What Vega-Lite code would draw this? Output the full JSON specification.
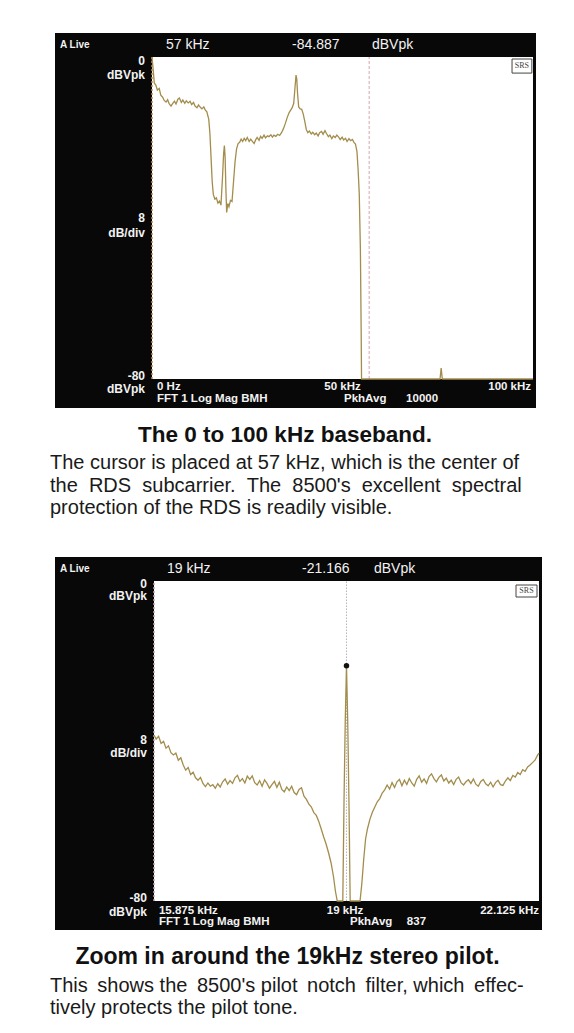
{
  "$schema": "https://vega.github.io/schema/vega-lite/v6.json",
  "background": "white",
  "padding": {"left": 50, "top": 33, "right": 0, "bottom": 0},
  "spacing": 6,
  "config": {"view": {"stroke": null}, "font": "Liberation Sans", "text": {"font": "Liberation Sans"}, "title": {"font": "Liberation Sans"}},
  "datasets": {
    "baseband": [
      {"freq_khz": 0, "level_dbvpk": 0}, {"freq_khz": 0.3, "level_dbvpk": -3}, {"freq_khz": 0.6, "level_dbvpk": -6.5}, {"freq_khz": 1.0, "level_dbvpk": -7}, {"freq_khz": 1.4, "level_dbvpk": -8.2}, {"freq_khz": 1.9, "level_dbvpk": -7.8}, {"freq_khz": 2.3, "level_dbvpk": -9.5}, {"freq_khz": 2.8, "level_dbvpk": -10}, {"freq_khz": 3.2, "level_dbvpk": -10.8}, {"freq_khz": 3.7, "level_dbvpk": -11.2}, {"freq_khz": 4.1, "level_dbvpk": -10.6}, {"freq_khz": 4.5, "level_dbvpk": -11.6}, {"freq_khz": 5.0, "level_dbvpk": -12.2}, {"freq_khz": 5.4, "level_dbvpk": -11.6}, {"freq_khz": 5.9, "level_dbvpk": -11.0}, {"freq_khz": 6.3, "level_dbvpk": -11.7}, {"freq_khz": 6.8, "level_dbvpk": -10.5}, {"freq_khz": 7.2, "level_dbvpk": -10.2}, {"freq_khz": 7.7, "level_dbvpk": -11.3}, {"freq_khz": 8.1, "level_dbvpk": -10.7}, {"freq_khz": 8.6, "level_dbvpk": -11.5}, {"freq_khz": 9.0, "level_dbvpk": -10.9}, {"freq_khz": 9.5, "level_dbvpk": -11.4}, {"freq_khz": 10.0, "level_dbvpk": -11.0}, {"freq_khz": 10.4, "level_dbvpk": -11.8}, {"freq_khz": 10.9, "level_dbvpk": -11.3}, {"freq_khz": 11.3, "level_dbvpk": -12.2}, {"freq_khz": 11.8, "level_dbvpk": -12.6}, {"freq_khz": 12.2, "level_dbvpk": -11.9}, {"freq_khz": 12.7, "level_dbvpk": -12.5}, {"freq_khz": 13.1, "level_dbvpk": -12.9}, {"freq_khz": 13.6, "level_dbvpk": -12.4}, {"freq_khz": 14.0, "level_dbvpk": -13.2}, {"freq_khz": 14.4, "level_dbvpk": -13.6}, {"freq_khz": 14.9, "level_dbvpk": -15.5}, {"freq_khz": 15.2, "level_dbvpk": -19}, {"freq_khz": 15.5, "level_dbvpk": -25}, {"freq_khz": 15.8, "level_dbvpk": -31}, {"freq_khz": 16.1, "level_dbvpk": -34.2}, {"freq_khz": 16.5, "level_dbvpk": -35.3}, {"freq_khz": 16.9, "level_dbvpk": -35.0}, {"freq_khz": 17.3, "level_dbvpk": -36.3}, {"freq_khz": 17.7, "level_dbvpk": -35.8}, {"freq_khz": 18.1, "level_dbvpk": -36.8}, {"freq_khz": 18.5, "level_dbvpk": -30}, {"freq_khz": 18.8, "level_dbvpk": -24}, {"freq_khz": 19.0, "level_dbvpk": -22.0}, {"freq_khz": 19.2, "level_dbvpk": -25}, {"freq_khz": 19.4, "level_dbvpk": -33}, {"freq_khz": 19.6, "level_dbvpk": -38.6}, {"freq_khz": 19.9, "level_dbvpk": -36.4}, {"freq_khz": 20.2, "level_dbvpk": -37.2}, {"freq_khz": 20.6, "level_dbvpk": -35.6}, {"freq_khz": 21.0, "level_dbvpk": -35.9}, {"freq_khz": 21.4, "level_dbvpk": -31}, {"freq_khz": 21.8, "level_dbvpk": -26}, {"freq_khz": 22.2, "level_dbvpk": -22.8}, {"freq_khz": 22.6, "level_dbvpk": -21.5}, {"freq_khz": 23.0, "level_dbvpk": -21.2}, {"freq_khz": 23.4, "level_dbvpk": -20.4}, {"freq_khz": 23.8, "level_dbvpk": -21.0}, {"freq_khz": 24.2, "level_dbvpk": -20.2}, {"freq_khz": 24.6, "level_dbvpk": -20.8}, {"freq_khz": 25.0, "level_dbvpk": -20.0}, {"freq_khz": 25.5, "level_dbvpk": -21.0}, {"freq_khz": 25.9, "level_dbvpk": -20.4}, {"freq_khz": 26.3, "level_dbvpk": -20.9}, {"freq_khz": 26.8, "level_dbvpk": -21.5}, {"freq_khz": 27.2, "level_dbvpk": -20.6}, {"freq_khz": 27.6, "level_dbvpk": -20.0}, {"freq_khz": 28.1, "level_dbvpk": -20.7}, {"freq_khz": 28.5, "level_dbvpk": -19.7}, {"freq_khz": 28.9, "level_dbvpk": -20.2}, {"freq_khz": 29.4, "level_dbvpk": -19.4}, {"freq_khz": 29.8, "level_dbvpk": -20.1}, {"freq_khz": 30.3, "level_dbvpk": -19.6}, {"freq_khz": 30.7, "level_dbvpk": -19.8}, {"freq_khz": 31.2, "level_dbvpk": -19.3}, {"freq_khz": 31.6, "level_dbvpk": -19.9}, {"freq_khz": 32.0, "level_dbvpk": -19.4}, {"freq_khz": 32.5, "level_dbvpk": -19.7}, {"freq_khz": 33.0, "level_dbvpk": -19.2}, {"freq_khz": 33.5, "level_dbvpk": -19.5}, {"freq_khz": 34.0, "level_dbvpk": -18.8}, {"freq_khz": 34.5, "level_dbvpk": -17.8}, {"freq_khz": 35.0, "level_dbvpk": -16.5}, {"freq_khz": 35.5, "level_dbvpk": -15.0}, {"freq_khz": 36.0, "level_dbvpk": -13.8}, {"freq_khz": 36.4, "level_dbvpk": -13.2}, {"freq_khz": 36.8, "level_dbvpk": -12.6}, {"freq_khz": 37.2, "level_dbvpk": -11.5}, {"freq_khz": 37.5, "level_dbvpk": -8}, {"freq_khz": 37.8, "level_dbvpk": -4.5}, {"freq_khz": 38.0, "level_dbvpk": -5.5}, {"freq_khz": 38.2, "level_dbvpk": -9}, {"freq_khz": 38.5, "level_dbvpk": -12.4}, {"freq_khz": 38.9, "level_dbvpk": -12.9}, {"freq_khz": 39.3, "level_dbvpk": -13.0}, {"freq_khz": 39.7, "level_dbvpk": -14.2}, {"freq_khz": 40.1, "level_dbvpk": -16}, {"freq_khz": 40.5, "level_dbvpk": -18.0}, {"freq_khz": 40.9, "level_dbvpk": -18.8}, {"freq_khz": 41.3, "level_dbvpk": -18.4}, {"freq_khz": 41.8, "level_dbvpk": -19.1}, {"freq_khz": 42.2, "level_dbvpk": -18.7}, {"freq_khz": 42.7, "level_dbvpk": -19.3}, {"freq_khz": 43.1, "level_dbvpk": -18.9}, {"freq_khz": 43.6, "level_dbvpk": -19.6}, {"freq_khz": 44.0, "level_dbvpk": -18.8}, {"freq_khz": 44.5, "level_dbvpk": -18.5}, {"freq_khz": 44.9, "level_dbvpk": -19.2}, {"freq_khz": 45.4, "level_dbvpk": -18.3}, {"freq_khz": 45.8, "level_dbvpk": -19.0}, {"freq_khz": 46.3, "level_dbvpk": -19.8}, {"freq_khz": 46.7, "level_dbvpk": -19.4}, {"freq_khz": 47.2, "level_dbvpk": -20.3}, {"freq_khz": 47.6, "level_dbvpk": -19.6}, {"freq_khz": 48.1, "level_dbvpk": -20.0}, {"freq_khz": 48.5, "level_dbvpk": -19.4}, {"freq_khz": 49.0, "level_dbvpk": -19.9}, {"freq_khz": 49.4, "level_dbvpk": -20.5}, {"freq_khz": 49.9, "level_dbvpk": -19.9}, {"freq_khz": 50.3, "level_dbvpk": -20.6}, {"freq_khz": 50.8, "level_dbvpk": -20.2}, {"freq_khz": 51.2, "level_dbvpk": -21.0}, {"freq_khz": 51.7, "level_dbvpk": -20.3}, {"freq_khz": 52.1, "level_dbvpk": -20.8}, {"freq_khz": 52.6, "level_dbvpk": -20.5}, {"freq_khz": 53.0, "level_dbvpk": -21.2}, {"freq_khz": 53.4, "level_dbvpk": -21.6}, {"freq_khz": 53.8, "level_dbvpk": -23.5}, {"freq_khz": 54.1, "level_dbvpk": -28}, {"freq_khz": 54.4, "level_dbvpk": -34}, {"freq_khz": 54.7, "level_dbvpk": -48}, {"freq_khz": 54.9, "level_dbvpk": -68}, {"freq_khz": 55.0, "level_dbvpk": -80}, {"freq_khz": 60, "level_dbvpk": -80}, {"freq_khz": 70, "level_dbvpk": -80}, {"freq_khz": 75.6, "level_dbvpk": -80}, {"freq_khz": 75.9, "level_dbvpk": -77.3}, {"freq_khz": 76.2, "level_dbvpk": -80}, {"freq_khz": 85, "level_dbvpk": -80}, {"freq_khz": 100, "level_dbvpk": -80}
    ],
    "pilot": [
      {"freq_khz": 15.875, "level_dbvpk": -38.5}, {"freq_khz": 15.91, "level_dbvpk": -39.5}, {"freq_khz": 15.95, "level_dbvpk": -38.8}, {"freq_khz": 15.99, "level_dbvpk": -40.6}, {"freq_khz": 16.03, "level_dbvpk": -40.1}, {"freq_khz": 16.07, "level_dbvpk": -41.8}, {"freq_khz": 16.11, "level_dbvpk": -41.2}, {"freq_khz": 16.15, "level_dbvpk": -42.9}, {"freq_khz": 16.19, "level_dbvpk": -43.5}, {"freq_khz": 16.23, "level_dbvpk": -43.0}, {"freq_khz": 16.27, "level_dbvpk": -44.8}, {"freq_khz": 16.31, "level_dbvpk": -44.2}, {"freq_khz": 16.35, "level_dbvpk": -46.0}, {"freq_khz": 16.39, "level_dbvpk": -47.3}, {"freq_khz": 16.43, "level_dbvpk": -46.6}, {"freq_khz": 16.47, "level_dbvpk": -48.4}, {"freq_khz": 16.51, "level_dbvpk": -47.8}, {"freq_khz": 16.55, "level_dbvpk": -49.2}, {"freq_khz": 16.59, "level_dbvpk": -49.8}, {"freq_khz": 16.63, "level_dbvpk": -49.1}, {"freq_khz": 16.67, "level_dbvpk": -50.6}, {"freq_khz": 16.71, "level_dbvpk": -51.4}, {"freq_khz": 16.75, "level_dbvpk": -50.5}, {"freq_khz": 16.79, "level_dbvpk": -51.3}, {"freq_khz": 16.83, "level_dbvpk": -50.9}, {"freq_khz": 16.87, "level_dbvpk": -51.8}, {"freq_khz": 16.91, "level_dbvpk": -50.7}, {"freq_khz": 16.95, "level_dbvpk": -51.5}, {"freq_khz": 16.99, "level_dbvpk": -50.2}, {"freq_khz": 17.03, "level_dbvpk": -49.5}, {"freq_khz": 17.07, "level_dbvpk": -50.8}, {"freq_khz": 17.11, "level_dbvpk": -49.9}, {"freq_khz": 17.15, "level_dbvpk": -50.6}, {"freq_khz": 17.19, "level_dbvpk": -49.2}, {"freq_khz": 17.23, "level_dbvpk": -48.6}, {"freq_khz": 17.27, "level_dbvpk": -50.1}, {"freq_khz": 17.31, "level_dbvpk": -49.4}, {"freq_khz": 17.35, "level_dbvpk": -50.5}, {"freq_khz": 17.39, "level_dbvpk": -48.8}, {"freq_khz": 17.43, "level_dbvpk": -49.6}, {"freq_khz": 17.47, "level_dbvpk": -48.7}, {"freq_khz": 17.51, "level_dbvpk": -50.4}, {"freq_khz": 17.55, "level_dbvpk": -51.0}, {"freq_khz": 17.59, "level_dbvpk": -49.9}, {"freq_khz": 17.63, "level_dbvpk": -51.3}, {"freq_khz": 17.67, "level_dbvpk": -49.7}, {"freq_khz": 17.71, "level_dbvpk": -50.6}, {"freq_khz": 17.75, "level_dbvpk": -51.8}, {"freq_khz": 17.79, "level_dbvpk": -50.9}, {"freq_khz": 17.83, "level_dbvpk": -50.1}, {"freq_khz": 17.87, "level_dbvpk": -51.6}, {"freq_khz": 17.91, "level_dbvpk": -50.3}, {"freq_khz": 17.95, "level_dbvpk": -52.1}, {"freq_khz": 17.99, "level_dbvpk": -52.7}, {"freq_khz": 18.03, "level_dbvpk": -51.5}, {"freq_khz": 18.07, "level_dbvpk": -52.4}, {"freq_khz": 18.11, "level_dbvpk": -51.3}, {"freq_khz": 18.15, "level_dbvpk": -52.9}, {"freq_khz": 18.19, "level_dbvpk": -53.4}, {"freq_khz": 18.23, "level_dbvpk": -52.1}, {"freq_khz": 18.27, "level_dbvpk": -51.7}, {"freq_khz": 18.31, "level_dbvpk": -53.8}, {"freq_khz": 18.35, "level_dbvpk": -54.6}, {"freq_khz": 18.39, "level_dbvpk": -55.8}, {"freq_khz": 18.43, "level_dbvpk": -56.5}, {"freq_khz": 18.47, "level_dbvpk": -57.9}, {"freq_khz": 18.51, "level_dbvpk": -58.6}, {"freq_khz": 18.55, "level_dbvpk": -60.1}, {"freq_khz": 18.59, "level_dbvpk": -62.0}, {"freq_khz": 18.63, "level_dbvpk": -64.0}, {"freq_khz": 18.67, "level_dbvpk": -65.8}, {"freq_khz": 18.71, "level_dbvpk": -68.0}, {"freq_khz": 18.75, "level_dbvpk": -70.5}, {"freq_khz": 18.79, "level_dbvpk": -74.0}, {"freq_khz": 18.82, "level_dbvpk": -77.5}, {"freq_khz": 18.85, "level_dbvpk": -80}, {"freq_khz": 18.94, "level_dbvpk": -80}, {"freq_khz": 18.96, "level_dbvpk": -55}, {"freq_khz": 18.98, "level_dbvpk": -35}, {"freq_khz": 19.0, "level_dbvpk": -21.2}, {"freq_khz": 19.02, "level_dbvpk": -35}, {"freq_khz": 19.04, "level_dbvpk": -55}, {"freq_khz": 19.06, "level_dbvpk": -80}, {"freq_khz": 19.22, "level_dbvpk": -80}, {"freq_khz": 19.25, "level_dbvpk": -75.5}, {"freq_khz": 19.28, "level_dbvpk": -69.5}, {"freq_khz": 19.31, "level_dbvpk": -64.5}, {"freq_khz": 19.34, "level_dbvpk": -62.0}, {"freq_khz": 19.38, "level_dbvpk": -59.6}, {"freq_khz": 19.42, "level_dbvpk": -57.8}, {"freq_khz": 19.46, "level_dbvpk": -56.5}, {"freq_khz": 19.50, "level_dbvpk": -55.2}, {"freq_khz": 19.54, "level_dbvpk": -54.4}, {"freq_khz": 19.58, "level_dbvpk": -53.0}, {"freq_khz": 19.62, "level_dbvpk": -52.2}, {"freq_khz": 19.66, "level_dbvpk": -51.0}, {"freq_khz": 19.70, "level_dbvpk": -52.0}, {"freq_khz": 19.74, "level_dbvpk": -50.4}, {"freq_khz": 19.78, "level_dbvpk": -51.6}, {"freq_khz": 19.82, "level_dbvpk": -50.2}, {"freq_khz": 19.86, "level_dbvpk": -49.6}, {"freq_khz": 19.90, "level_dbvpk": -51.2}, {"freq_khz": 19.94, "level_dbvpk": -49.8}, {"freq_khz": 19.98, "level_dbvpk": -50.9}, {"freq_khz": 20.02, "level_dbvpk": -49.4}, {"freq_khz": 20.06, "level_dbvpk": -50.5}, {"freq_khz": 20.10, "level_dbvpk": -51.3}, {"freq_khz": 20.14, "level_dbvpk": -49.6}, {"freq_khz": 20.18, "level_dbvpk": -48.7}, {"freq_khz": 20.22, "level_dbvpk": -50.3}, {"freq_khz": 20.26, "level_dbvpk": -49.5}, {"freq_khz": 20.30, "level_dbvpk": -50.6}, {"freq_khz": 20.34, "level_dbvpk": -48.9}, {"freq_khz": 20.38, "level_dbvpk": -48.2}, {"freq_khz": 20.42, "level_dbvpk": -49.4}, {"freq_khz": 20.46, "level_dbvpk": -50.2}, {"freq_khz": 20.50, "level_dbvpk": -49.1}, {"freq_khz": 20.54, "level_dbvpk": -48.5}, {"freq_khz": 20.58, "level_dbvpk": -50.0}, {"freq_khz": 20.62, "level_dbvpk": -49.3}, {"freq_khz": 20.66, "level_dbvpk": -50.5}, {"freq_khz": 20.70, "level_dbvpk": -49.8}, {"freq_khz": 20.74, "level_dbvpk": -50.9}, {"freq_khz": 20.78, "level_dbvpk": -49.6}, {"freq_khz": 20.82, "level_dbvpk": -49.0}, {"freq_khz": 20.86, "level_dbvpk": -50.4}, {"freq_khz": 20.90, "level_dbvpk": -51.0}, {"freq_khz": 20.94, "level_dbvpk": -50.2}, {"freq_khz": 20.98, "level_dbvpk": -49.7}, {"freq_khz": 21.02, "level_dbvpk": -50.6}, {"freq_khz": 21.06, "level_dbvpk": -49.5}, {"freq_khz": 21.10, "level_dbvpk": -50.8}, {"freq_khz": 21.14, "level_dbvpk": -51.3}, {"freq_khz": 21.18, "level_dbvpk": -50.1}, {"freq_khz": 21.22, "level_dbvpk": -49.6}, {"freq_khz": 21.26, "level_dbvpk": -50.7}, {"freq_khz": 21.30, "level_dbvpk": -51.2}, {"freq_khz": 21.34, "level_dbvpk": -50.3}, {"freq_khz": 21.38, "level_dbvpk": -51.5}, {"freq_khz": 21.42, "level_dbvpk": -50.4}, {"freq_khz": 21.46, "level_dbvpk": -49.8}, {"freq_khz": 21.50, "level_dbvpk": -50.9}, {"freq_khz": 21.54, "level_dbvpk": -51.1}, {"freq_khz": 21.58, "level_dbvpk": -50.0}, {"freq_khz": 21.62, "level_dbvpk": -49.2}, {"freq_khz": 21.66, "level_dbvpk": -49.9}, {"freq_khz": 21.70, "level_dbvpk": -48.6}, {"freq_khz": 21.74, "level_dbvpk": -49.0}, {"freq_khz": 21.78, "level_dbvpk": -47.9}, {"freq_khz": 21.82, "level_dbvpk": -48.4}, {"freq_khz": 21.86, "level_dbvpk": -47.2}, {"freq_khz": 21.90, "level_dbvpk": -47.6}, {"freq_khz": 21.94, "level_dbvpk": -46.5}, {"freq_khz": 21.98, "level_dbvpk": -46.0}, {"freq_khz": 22.02, "level_dbvpk": -45.4}, {"freq_khz": 22.06, "level_dbvpk": -44.8}, {"freq_khz": 22.10, "level_dbvpk": -43.6}, {"freq_khz": 22.125, "level_dbvpk": -43.0}
    ]
  },
  "vconcat": [
    {
      "width": 481, "height": 375,
      "view": {"fill": "#080808", "stroke": null},
      "data": {"values": [{}]},
      "title": {"text": "The 0 to 100 kHz baseband.", "orient": "bottom", "anchor": "middle", "fontSize": 22.5, "fontWeight": "bold", "color": "#111111", "offset": 16, "dx": -10.5},
      "layer": [
        {"mark": {"type": "rect", "color": "#ffffff"}, "encoding": {"x": {"datum": 0, "type": "quantitative", "axis": null, "scale": {"domain": [-25.46, 100.79], "nice": false, "zero": false}}, "x2": {"datum": 100}, "y": {"datum": -80, "type": "quantitative", "axis": null, "scale": {"domain": [-87.2, 5.96], "nice": false, "zero": false}}, "y2": {"datum": 0}}},
        {"mark": {"type": "rule", "color": "#c98a4a", "strokeWidth": 1.5, "strokeDash": [2, 2]}, "encoding": {"x": {"datum": 0, "type": "quantitative", "axis": null}, "y": {"datum": -80, "type": "quantitative", "axis": null}, "y2": {"datum": 0}}},
        {"mark": {"type": "rule", "color": "#d9a3ad", "strokeWidth": 1, "strokeDash": [3, 2]}, "encoding": {"x": {"datum": 57, "type": "quantitative", "axis": null}, "y": {"datum": -80, "type": "quantitative", "axis": null}, "y2": {"datum": 0}}},
        {"data": {"name": "baseband"}, "mark": {"type": "line", "color": "#a38d4d", "strokeWidth": 1.3}, "encoding": {"x": {"field": "freq_khz", "type": "quantitative", "axis": null}, "y": {"field": "level_dbvpk", "type": "quantitative", "axis": null}}},
        {"mark": {"type": "rect", "fill": "#ffffff", "stroke": "#444444", "strokeWidth": 1}, "encoding": {"x": {"datum": 94.5, "type": "quantitative", "axis": null}, "x2": {"datum": 99.7}, "y": {"datum": -0.5, "type": "quantitative", "axis": null}, "y2": {"datum": -4.0}}},
        {"mark": {"type": "text", "align": "center", "baseline": "middle", "fontSize": 8, "font": "Liberation Serif", "color": "#444444"}, "encoding": {"x": {"datum": 97.1, "type": "quantitative", "axis": null}, "y": {"datum": -2.25, "type": "quantitative", "axis": null}, "text": {"value": "SRS"}}},
        {"mark": {"type": "text", "align": "left", "baseline": "middle", "fontSize": 10, "fontWeight": "bold", "color": "#f2f2f2"}, "encoding": {"x": {"datum": -24.15, "type": "quantitative", "axis": null}, "y": {"datum": 2.98, "type": "quantitative", "axis": null}, "text": {"value": "A Live"}}},
        {"mark": {"type": "text", "align": "left", "baseline": "middle", "fontSize": 14, "color": "#f2f2f2"}, "encoding": {"x": {"datum": 3.67, "type": "quantitative", "axis": null}, "y": {"datum": 2.98, "type": "quantitative", "axis": null}, "text": {"value": "57 kHz"}}},
        {"mark": {"type": "text", "align": "left", "baseline": "middle", "fontSize": 14, "color": "#f2f2f2"}, "encoding": {"x": {"datum": 36.75, "type": "quantitative", "axis": null}, "y": {"datum": 2.98, "type": "quantitative", "axis": null}, "text": {"value": "-84.887"}}},
        {"mark": {"type": "text", "align": "left", "baseline": "middle", "fontSize": 14, "color": "#f2f2f2"}, "encoding": {"x": {"datum": 57.74, "type": "quantitative", "axis": null}, "y": {"datum": 2.98, "type": "quantitative", "axis": null}, "text": {"value": "dBVpk"}}},
        {"mark": {"type": "text", "align": "right", "baseline": "middle", "fontSize": 12, "fontWeight": "bold", "color": "#f2f2f2"}, "encoding": {"x": {"datum": -1.84, "type": "quantitative", "axis": null}, "y": {"datum": -0.99, "type": "quantitative", "axis": null}, "text": {"value": "0"}}},
        {"mark": {"type": "text", "align": "right", "baseline": "middle", "fontSize": 12, "fontWeight": "bold", "color": "#f2f2f2"}, "encoding": {"x": {"datum": -1.84, "type": "quantitative", "axis": null}, "y": {"datum": -4.47, "type": "quantitative", "axis": null}, "text": {"value": "dBVpk"}}},
        {"mark": {"type": "text", "align": "right", "baseline": "middle", "fontSize": 12, "fontWeight": "bold", "color": "#f2f2f2"}, "encoding": {"x": {"datum": -1.84, "type": "quantitative", "axis": null}, "y": {"datum": -40.0, "type": "quantitative", "axis": null}, "text": {"value": "8"}}},
        {"mark": {"type": "text", "align": "right", "baseline": "middle", "fontSize": 12, "fontWeight": "bold", "color": "#f2f2f2"}, "encoding": {"x": {"datum": -1.84, "type": "quantitative", "axis": null}, "y": {"datum": -43.7, "type": "quantitative", "axis": null}, "text": {"value": "dB/div"}}},
        {"mark": {"type": "text", "align": "right", "baseline": "middle", "fontSize": 12, "fontWeight": "bold", "color": "#f2f2f2"}, "encoding": {"x": {"datum": -1.84, "type": "quantitative", "axis": null}, "y": {"datum": -79.25, "type": "quantitative", "axis": null}, "text": {"value": "-80"}}},
        {"mark": {"type": "text", "align": "right", "baseline": "middle", "fontSize": 12, "fontWeight": "bold", "color": "#f2f2f2"}, "encoding": {"x": {"datum": -1.84, "type": "quantitative", "axis": null}, "y": {"datum": -82.5, "type": "quantitative", "axis": null}, "text": {"value": "dBVpk"}}},
        {"mark": {"type": "text", "align": "left", "baseline": "middle", "fontSize": 11.5, "fontWeight": "bold", "color": "#f2f2f2"}, "encoding": {"x": {"datum": 1.31, "type": "quantitative", "axis": null}, "y": {"datum": -82.0, "type": "quantitative", "axis": null}, "text": {"value": "0 Hz"}}},
        {"mark": {"type": "text", "align": "left", "baseline": "middle", "fontSize": 11.5, "fontWeight": "bold", "color": "#f2f2f2"}, "encoding": {"x": {"datum": 1.31, "type": "quantitative", "axis": null}, "y": {"datum": -85.0, "type": "quantitative", "axis": null}, "text": {"value": "FFT 1 Log Mag BMH"}}},
        {"mark": {"type": "text", "align": "center", "baseline": "middle", "fontSize": 11.5, "fontWeight": "bold", "color": "#f2f2f2"}, "encoding": {"x": {"datum": 50, "type": "quantitative", "axis": null}, "y": {"datum": -82.0, "type": "quantitative", "axis": null}, "text": {"value": "50 kHz"}}},
        {"mark": {"type": "text", "align": "left", "baseline": "middle", "fontSize": 11.5, "fontWeight": "bold", "color": "#f2f2f2"}, "encoding": {"x": {"datum": 50.4, "type": "quantitative", "axis": null}, "y": {"datum": -85.0, "type": "quantitative", "axis": null}, "text": {"value": "PkhAvg"}}},
        {"mark": {"type": "text", "align": "left", "baseline": "middle", "fontSize": 11.5, "fontWeight": "bold", "color": "#f2f2f2"}, "encoding": {"x": {"datum": 66.7, "type": "quantitative", "axis": null}, "y": {"datum": -85.0, "type": "quantitative", "axis": null}, "text": {"value": "10000"}}},
        {"mark": {"type": "text", "align": "right", "baseline": "middle", "fontSize": 11.5, "fontWeight": "bold", "color": "#f2f2f2"}, "encoding": {"x": {"datum": 99.5, "type": "quantitative", "axis": null}, "y": {"datum": -82.0, "type": "quantitative", "axis": null}, "text": {"value": "100 kHz"}}}
      ]
    },
    {
      "width": 481, "height": 33,
      "view": {"fill": null, "stroke": null},
      "data": {"values": [{}]},
      "mark": {"type": "text"},
      "encoding": {"text": {"value": ""}},
      "title": {"text": ["The cursor is placed at 57 kHz, which is the center of", "the \u00a0RDS \u00a0subcarrier. \u00a0The \u00a08500's \u00a0excellent \u00a0spectral", "protection of the RDS is readily visible."], "orient": "top", "anchor": "start", "baseline": "top", "offset": 0, "fontSize": 20, "fontWeight": "normal", "lineHeight": 22.5, "color": "#1a1a1a", "dx": -5}
    },
    {
      "width": 487, "height": 373,
      "view": {"fill": "#080808", "stroke": null},
      "data": {"values": [{}]},
      "title": {"text": "Zoom in around the 19kHz stereo pilot.", "orient": "bottom", "anchor": "middle", "fontSize": 23, "fontWeight": "bold", "color": "#111111", "offset": 16, "dx": -11},
      "layer": [
        {"mark": {"type": "rect", "color": "#ffffff"}, "encoding": {"x": {"datum": 15.875, "type": "quantitative", "axis": null, "scale": {"domain": [14.268, 22.174], "nice": false, "zero": false}}, "x2": {"datum": 22.125}, "y": {"datum": -80, "type": "quantitative", "axis": null, "scale": {"domain": [-87.25, 6.0], "nice": false, "zero": false}}, "y2": {"datum": 0}}},
        {"mark": {"type": "rule", "color": "#c7a0ad", "strokeWidth": 1.5, "strokeDash": [2, 2]}, "encoding": {"x": {"datum": 15.875, "type": "quantitative", "axis": null}, "y": {"datum": -80, "type": "quantitative", "axis": null}, "y2": {"datum": 0}}},
        {"mark": {"type": "rule", "color": "#b5b5b5", "strokeWidth": 1, "strokeDash": [1.5, 1.5]}, "encoding": {"x": {"datum": 19, "type": "quantitative", "axis": null}, "y": {"datum": -80, "type": "quantitative", "axis": null}, "y2": {"datum": 0}}},
        {"data": {"name": "pilot"}, "mark": {"type": "line", "color": "#a38d4d", "strokeWidth": 1.3}, "encoding": {"x": {"field": "freq_khz", "type": "quantitative", "axis": null}, "y": {"field": "level_dbvpk", "type": "quantitative", "axis": null}}},
        {"mark": {"type": "point", "filled": true, "color": "#111111", "size": 30, "opacity": 1}, "encoding": {"x": {"datum": 19, "type": "quantitative", "axis": null}, "y": {"datum": -21.166, "type": "quantitative", "axis": null}}},
        {"mark": {"type": "rect", "fill": "#ffffff", "stroke": "#444444", "strokeWidth": 1}, "encoding": {"x": {"datum": 21.752, "type": "quantitative", "axis": null}, "x2": {"datum": 22.093}, "y": {"datum": -1.0, "type": "quantitative", "axis": null}, "y2": {"datum": -4.0}}},
        {"mark": {"type": "text", "align": "center", "baseline": "middle", "fontSize": 8, "font": "Liberation Serif", "color": "#444444"}, "encoding": {"x": {"datum": 21.922, "type": "quantitative", "axis": null}, "y": {"datum": -2.5, "type": "quantitative", "axis": null}, "text": {"value": "SRS"}}},
        {"mark": {"type": "text", "align": "left", "baseline": "middle", "fontSize": 10, "fontWeight": "bold", "color": "#f2f2f2"}, "encoding": {"x": {"datum": 14.349, "type": "quantitative", "axis": null}, "y": {"datum": 3.0, "type": "quantitative", "axis": null}, "text": {"value": "A Live"}}},
        {"mark": {"type": "text", "align": "left", "baseline": "middle", "fontSize": 14, "color": "#f2f2f2"}, "encoding": {"x": {"datum": 16.086, "type": "quantitative", "axis": null}, "y": {"datum": 3.0, "type": "quantitative", "axis": null}, "text": {"value": "19 kHz"}}},
        {"mark": {"type": "text", "align": "left", "baseline": "middle", "fontSize": 14, "color": "#f2f2f2"}, "encoding": {"x": {"datum": 18.278, "type": "quantitative", "axis": null}, "y": {"datum": 3.0, "type": "quantitative", "axis": null}, "text": {"value": "-21.166"}}},
        {"mark": {"type": "text", "align": "left", "baseline": "middle", "fontSize": 14, "color": "#f2f2f2"}, "encoding": {"x": {"datum": 19.446, "type": "quantitative", "axis": null}, "y": {"datum": 3.0, "type": "quantitative", "axis": null}, "text": {"value": "dBVpk"}}},
        {"mark": {"type": "text", "align": "right", "baseline": "middle", "fontSize": 12, "fontWeight": "bold", "color": "#f2f2f2"}, "encoding": {"x": {"datum": 15.761, "type": "quantitative", "axis": null}, "y": {"datum": -0.75, "type": "quantitative", "axis": null}, "text": {"value": "0"}}},
        {"mark": {"type": "text", "align": "right", "baseline": "middle", "fontSize": 12, "fontWeight": "bold", "color": "#f2f2f2"}, "encoding": {"x": {"datum": 15.761, "type": "quantitative", "axis": null}, "y": {"datum": -3.75, "type": "quantitative", "axis": null}, "text": {"value": "dBVpk"}}},
        {"mark": {"type": "text", "align": "right", "baseline": "middle", "fontSize": 12, "fontWeight": "bold", "color": "#f2f2f2"}, "encoding": {"x": {"datum": 15.761, "type": "quantitative", "axis": null}, "y": {"datum": -39.75, "type": "quantitative", "axis": null}, "text": {"value": "8"}}},
        {"mark": {"type": "text", "align": "right", "baseline": "middle", "fontSize": 12, "fontWeight": "bold", "color": "#f2f2f2"}, "encoding": {"x": {"datum": 15.761, "type": "quantitative", "axis": null}, "y": {"datum": -43.0, "type": "quantitative", "axis": null}, "text": {"value": "dB/div"}}},
        {"mark": {"type": "text", "align": "right", "baseline": "middle", "fontSize": 12, "fontWeight": "bold", "color": "#f2f2f2"}, "encoding": {"x": {"datum": 15.761, "type": "quantitative", "axis": null}, "y": {"datum": -79.25, "type": "quantitative", "axis": null}, "text": {"value": "-80"}}},
        {"mark": {"type": "text", "align": "right", "baseline": "middle", "fontSize": 12, "fontWeight": "bold", "color": "#f2f2f2"}, "encoding": {"x": {"datum": 15.761, "type": "quantitative", "axis": null}, "y": {"datum": -82.75, "type": "quantitative", "axis": null}, "text": {"value": "dBVpk"}}},
        {"mark": {"type": "text", "align": "left", "baseline": "middle", "fontSize": 11.5, "fontWeight": "bold", "color": "#f2f2f2"}, "encoding": {"x": {"datum": 15.956, "type": "quantitative", "axis": null}, "y": {"datum": -82.5, "type": "quantitative", "axis": null}, "text": {"value": "15.875 kHz"}}},
        {"mark": {"type": "text", "align": "left", "baseline": "middle", "fontSize": 11.5, "fontWeight": "bold", "color": "#f2f2f2"}, "encoding": {"x": {"datum": 15.956, "type": "quantitative", "axis": null}, "y": {"datum": -85.25, "type": "quantitative", "axis": null}, "text": {"value": "FFT 1 Log Mag BMH"}}},
        {"mark": {"type": "text", "align": "center", "baseline": "middle", "fontSize": 11.5, "fontWeight": "bold", "color": "#f2f2f2"}, "encoding": {"x": {"datum": 18.976, "type": "quantitative", "axis": null}, "y": {"datum": -82.5, "type": "quantitative", "axis": null}, "text": {"value": "19 kHz"}}},
        {"mark": {"type": "text", "align": "left", "baseline": "middle", "fontSize": 11.5, "fontWeight": "bold", "color": "#f2f2f2"}, "encoding": {"x": {"datum": 19.057, "type": "quantitative", "axis": null}, "y": {"datum": -85.25, "type": "quantitative", "axis": null}, "text": {"value": "PkhAvg"}}},
        {"mark": {"type": "text", "align": "left", "baseline": "middle", "fontSize": 11.5, "fontWeight": "bold", "color": "#f2f2f2"}, "encoding": {"x": {"datum": 19.98, "type": "quantitative", "axis": null}, "y": {"datum": -85.25, "type": "quantitative", "axis": null}, "text": {"value": "837"}}},
        {"mark": {"type": "text", "align": "right", "baseline": "middle", "fontSize": 11.5, "fontWeight": "bold", "color": "#f2f2f2"}, "encoding": {"x": {"datum": 22.125, "type": "quantitative", "axis": null}, "y": {"datum": -82.5, "type": "quantitative", "axis": null}, "text": {"value": "22.125 kHz"}}}
      ]
    },
    {
      "width": 487, "height": 20,
      "view": {"fill": null, "stroke": null},
      "data": {"values": [{}]},
      "mark": {"type": "text"},
      "encoding": {"text": {"value": ""}},
      "title": {"text": ["This \u2009shows the \u20098500's pilot \u2009notch \u2009filter, which \u2009effec-", "tively protects the pilot tone."], "orient": "top", "anchor": "start", "baseline": "top", "offset": 0, "fontSize": 20, "fontWeight": "normal", "lineHeight": 22.5, "color": "#1a1a1a", "dx": -5}
    }
  ]
}
